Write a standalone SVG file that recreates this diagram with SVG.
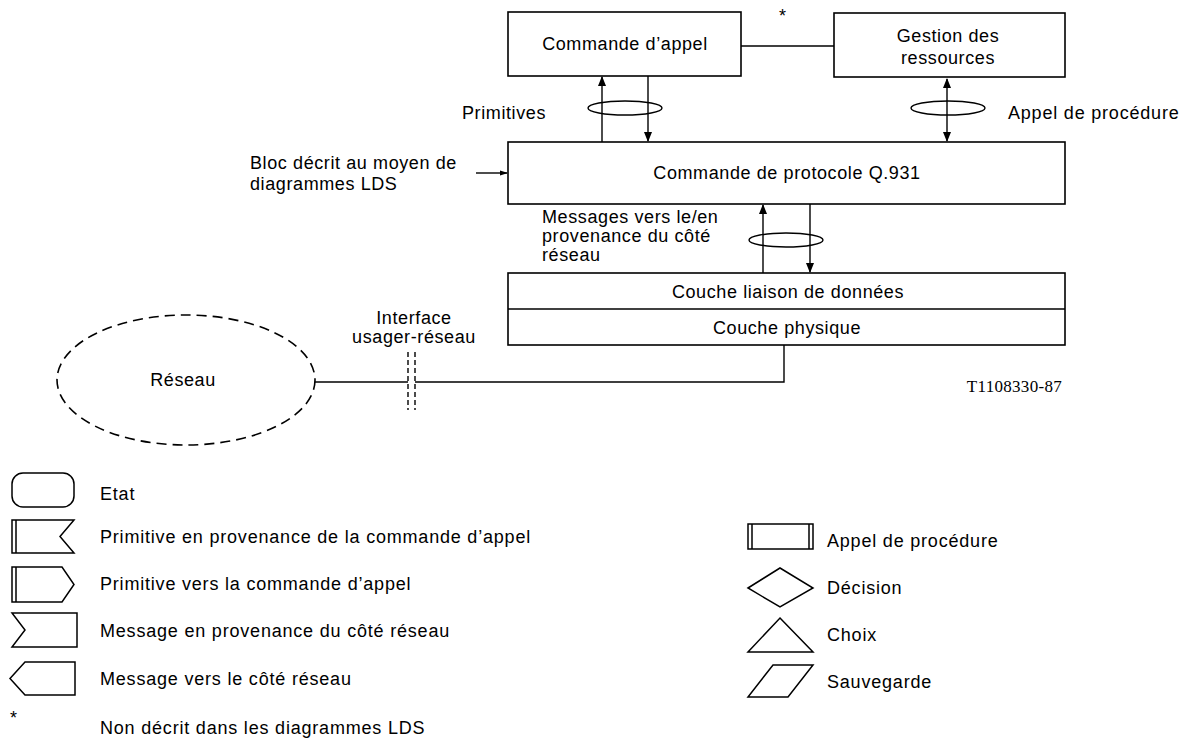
<svg xmlns="http://www.w3.org/2000/svg" width="1187" height="742" viewBox="0 0 1187 742">
<style>
text{font-family:"Liberation Sans",Arial,sans-serif;font-size:18px;fill:#000;letter-spacing:0.6px}
.c{text-anchor:middle}
.lg{letter-spacing:0.8px}
.box{fill:none;stroke:#000;stroke-width:1.6}
.ln{fill:none;stroke:#000;stroke-width:1.4}
.sym{fill:none;stroke:#000;stroke-width:1.5;stroke-linejoin:miter}
.dash{fill:none;stroke:#000;stroke-width:1.6;stroke-dasharray:10 6}
.serif{font-family:"Liberation Serif","Times New Roman",serif;font-size:17px;letter-spacing:0.3px}
</style>
<defs>
<marker id="ah" markerWidth="10" markerHeight="10" refX="9" refY="5" orient="auto" markerUnits="userSpaceOnUse">
<path d="M0,1 L10,5 L0,9 Z" fill="#000"/>
</marker>
<marker id="ahs" markerWidth="8" markerHeight="8" refX="7" refY="4" orient="auto" markerUnits="userSpaceOnUse">
<path d="M0,1.5 L8,4 L0,6.5 Z" fill="#000"/>
</marker>
<marker id="ahr" markerWidth="10" markerHeight="10" refX="1" refY="5" orient="auto" markerUnits="userSpaceOnUse">
<path d="M10,1 L0,5 L10,9 Z" fill="#000"/>
</marker>
</defs>
<rect width="1187" height="742" fill="#fff"/>

<g id="commande-appel">
<rect class="box" x="508" y="12" width="233" height="64"/>
<text class="c" x="625" y="50">Commande d’appel</text>
</g>
<g id="gestion-ressources">
<rect class="box" x="834" y="13" width="231" height="64"/>
<text class="c" x="948" y="42">Gestion des</text>
<text class="c" x="948" y="64">ressources</text>
</g>
<g id="commande-protocole">
<rect class="box" x="508" y="142" width="557" height="62"/>
<text class="c" x="787" y="179">Commande de protocole Q.931</text>
</g>
<g id="couches">
<rect class="box" x="508" y="273" width="557" height="72"/>
<line class="box" x1="508" y1="309" x2="1065" y2="309"/>
<text class="c" x="788" y="298">Couche liaison de données</text>
<text class="c" x="787" y="334">Couche physique</text>
</g>
<g id="reseau">
<ellipse class="dash" cx="186" cy="380" rx="129" ry="65"/>
<text class="c" x="183" y="386">Réseau</text>
</g>
<g id="interface">
<line class="ln" x1="408" y1="352" x2="408" y2="410" stroke-dasharray="5 3"/>
<line class="ln" x1="415" y1="352" x2="415" y2="410" stroke-dasharray="5 3"/>
<text class="c" x="414" y="324">Interface</text>
<text class="c" x="414" y="343">usager-réseau</text>
</g>

<g id="connecteurs">
<line class="ln" x1="741" y1="46" x2="834" y2="46"/>
<text x="779" y="22">*</text>
<line class="ln" x1="602" y1="142" x2="602" y2="77" marker-end="url(#ah)"/>
<line class="ln" x1="648" y1="76" x2="648" y2="141" marker-end="url(#ah)"/>
<ellipse class="ln" cx="625" cy="108" rx="37" ry="7"/>
<line class="ln" x1="947" y1="79" x2="947" y2="141" marker-start="url(#ahr)" marker-end="url(#ah)"/>
<ellipse class="ln" cx="948" cy="108" rx="37" ry="7"/>
<line class="ln" x1="476" y1="173" x2="507" y2="173" marker-end="url(#ahs)"/>
<line class="ln" x1="763" y1="273" x2="763" y2="205" marker-end="url(#ah)"/>
<line class="ln" x1="810" y1="204" x2="810" y2="272" marker-end="url(#ah)"/>
<ellipse class="ln" cx="786" cy="240" rx="37" ry="7"/>
<polyline class="ln" points="784,345 784,382 415,382"/>
<line class="ln" x1="315" y1="382" x2="408" y2="382"/>
</g>

<g id="labels">
<text x="462" y="119">Primitives</text>
<text class="lg" x="1008" y="119">Appel de procédure</text>
<text x="250" y="169">Bloc décrit au moyen de</text>
<text x="250" y="190">diagrammes LDS</text>
<text x="542" y="223">Messages vers le/en</text>
<text x="542" y="242">provenance du côté</text>
<text x="542" y="261">réseau</text>
<text class="serif" x="1062" y="392" text-anchor="end">T1108330-87</text>
</g>

<g id="legende">
<rect class="sym" x="12" y="473" width="62" height="34" rx="11"/>
<text class="lg" x="100" y="500">Etat</text>
<path class="sym" d="M12,520 H74 L60,536.5 L74,553 H12 Z M16,520 V553"/>
<text class="lg" x="100" y="543">Primitive en provenance de la commande d’appel</text>
<path class="sym" d="M12,567 H62 L74,584.5 L62,602 H12 Z M16,567 V602"/>
<text class="lg" x="100" y="590">Primitive vers la commande d’appel</text>
<path class="sym" d="M12,613 H77 V647 H12 L25,630 Z"/>
<text class="lg" x="100" y="637">Message en provenance du côté réseau</text>
<path class="sym" d="M25,662 H75 V695 H25 L10,678.5 Z"/>
<text class="lg" x="100" y="685">Message vers le côté réseau</text>
<text x="10" y="724">*</text>
<text class="lg" x="100" y="734">Non décrit dans les diagrammes LDS</text>
<path class="sym" d="M748,524 H813 V549 H748 Z M752,524 V549 M809,524 V549"/>
<text class="lg" x="827" y="547">Appel de procédure</text>
<path class="sym" d="M748,588 L780,568 L813,588 L780,607 Z"/>
<text class="lg" x="827" y="594">Décision</text>
<path class="sym" d="M780,618 L813,652 L748,652 Z"/>
<text class="lg" x="827" y="641">Choix</text>
<path class="sym" d="M773,665 H813 L788,697 H748 Z"/>
<text class="lg" x="827" y="688">Sauvegarde</text>
</g>
</svg>
